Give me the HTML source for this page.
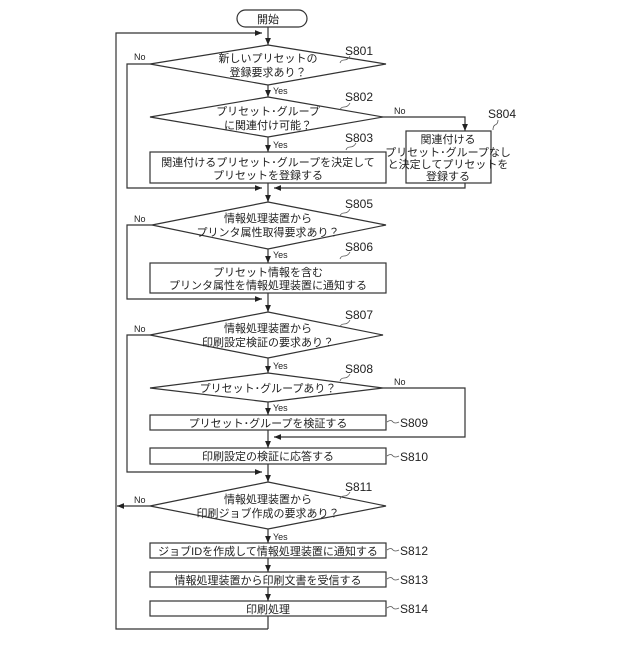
<!DOCTYPE html>
<html><head><meta charset="utf-8"><style>
body{margin:0;background:#fff}
svg text{font-family:"Liberation Sans","Noto Sans CJK JP",sans-serif;fill:#222}
.t{font-size:11px;text-anchor:middle}
.l{font-size:12px}
.s{font-size:9px}
</style></head><body>
<svg width="640" height="640" viewBox="0 0 640 640" xmlns="http://www.w3.org/2000/svg">
<defs><marker id="a" viewBox="0 0 6 6" refX="6" refY="3" markerWidth="6" markerHeight="6" orient="auto"><path d="M0,0.5L6,3L0,5.5z" fill="#222"/></marker></defs>
<g fill="none" stroke="#333" stroke-width="1.2">
<rect x="237" y="10" width="70" height="17" rx="8.5" fill="#fff"/>
<line x1="268" y1="27" x2="268" y2="45" marker-end="url(#a)"/>
<polyline points="268,629 116,629 116,33 262,33" marker-end="url(#a)"/>
<polygon points="268,45 386,64 268,85 150,64"/>
<polyline points="150,64 127,64 127,188 262,188" marker-end="url(#a)"/>
<line x1="268" y1="85" x2="268" y2="97" marker-end="url(#a)"/>
<polygon points="268,97 383,117 268,137 150,117"/>
<polyline points="383,117 465,117 465,131" marker-end="url(#a)"/>
<rect x="406" y="131" width="85" height="52"/>
<polyline points="465,183 465,188 274,188" marker-end="url(#a)"/>
<line x1="268" y1="137" x2="268" y2="152" marker-end="url(#a)"/>
<rect x="150" y="152" width="236" height="31"/>
<line x1="268" y1="183" x2="268" y2="202" marker-end="url(#a)"/>
<polygon points="268,202 386,225 268,249 152,225"/>
<polyline points="152,225 127,225 127,299 262,299" marker-end="url(#a)"/>
<line x1="268" y1="249" x2="268" y2="263" marker-end="url(#a)"/>
<rect x="150" y="263" width="236" height="30"/>
<line x1="268" y1="293" x2="268" y2="312" marker-end="url(#a)"/>
<polygon points="268,312 383,335 268,358 150,335"/>
<polyline points="150,335 127,335 127,472 262,472" marker-end="url(#a)"/>
<line x1="268" y1="358" x2="268" y2="373" marker-end="url(#a)"/>
<polygon points="268,373 383,388 268,402 150,388"/>
<polyline points="383,388 465,388 465,437 274,437" marker-end="url(#a)"/>
<line x1="268" y1="402" x2="268" y2="415" marker-end="url(#a)"/>
<rect x="150" y="415" width="236" height="15"/>
<line x1="268" y1="430" x2="268" y2="448" marker-end="url(#a)"/>
<rect x="150" y="448" width="236" height="16"/>
<line x1="268" y1="464" x2="268" y2="482" marker-end="url(#a)"/>
<polygon points="268,482 386,506 268,529 150,506"/>
<line x1="150" y1="506" x2="117" y2="506" marker-end="url(#a)"/>
<line x1="268" y1="529" x2="268" y2="543" marker-end="url(#a)"/>
<rect x="150" y="543" width="236" height="15"/>
<line x1="268" y1="558" x2="268" y2="572" marker-end="url(#a)"/>
<rect x="150" y="572" width="236" height="15"/>
<line x1="268" y1="587" x2="268" y2="601" marker-end="url(#a)"/>
<rect x="150" y="601" width="236" height="15"/>
<line x1="268" y1="616" x2="268" y2="629"/>
</g>
<g fill="none" stroke="#555" stroke-width="0.8">
<path d="M350,56 q-2,4 -6,4 q-3,0 -4,3"/>
<path d="M350,103 q-2,4 -6,4 q-3,0 -4,3"/>
<path d="M356,143 q-2,4 -6,4 q-3,0 -4,3"/>
<path d="M498,120 q0,4 -3,5 q-2,1 -2,5"/>
<path d="M350,209 q-2,4 -6,4 q-3,0 -4,3"/>
<path d="M350,252 q-2,4 -6,4 q-3,0 -4,3"/>
<path d="M350,320 q-2,4 -6,4 q-3,0 -4,3"/>
<path d="M350,374 q-2,4 -6,4 q-3,0 -4,3"/>
<path d="M350,492 q-2,4 -6,4 q-3,0 -4,3"/>
<path d="M387,422 q4,-3 6,0 q2,2 6,0"/>
<path d="M387,456 q4,-3 6,0 q2,2 6,0"/>
<path d="M387,550 q4,-3 6,0 q2,2 6,0"/>
<path d="M387,579 q4,-3 6,0 q2,2 6,0"/>
<path d="M387,608 q4,-3 6,0 q2,2 6,0"/>
</g>
<text class="t" x="268" y="23">開始</text>
<text class="t" x="268" y="62">新しいプリセットの</text>
<text class="t" x="268" y="76">登録要求あり？</text>
<text class="t" x="268" y="115">プリセット･グループ</text>
<text class="t" x="268" y="129">に関連付け可能？</text>
<text class="t" x="268" y="166">関連付けるプリセット･グループを決定して</text>
<text class="t" x="268" y="179">プリセットを登録する</text>
<text class="t" x="448" y="143">関連付ける</text>
<text class="t" x="448" y="156">プリセット･グループなし</text>
<text class="t" x="448" y="168">と決定してプリセットを</text>
<text class="t" x="448" y="180">登録する</text>
<text class="t" x="268" y="222">情報処理装置から</text>
<text class="t" x="268" y="236">プリンタ属性取得要求あり？</text>
<text class="t" x="268" y="276">プリセット情報を含む</text>
<text class="t" x="268" y="289">プリンタ属性を情報処理装置に通知する</text>
<text class="t" x="268" y="332">情報処理装置から</text>
<text class="t" x="268" y="346">印刷設定検証の要求あり？</text>
<text class="t" x="268" y="392">プリセット･グループあり？</text>
<text class="t" x="268" y="427">プリセット･グループを検証する</text>
<text class="t" x="268" y="460">印刷設定の検証に応答する</text>
<text class="t" x="268" y="503">情報処理装置から</text>
<text class="t" x="268" y="517">印刷ジョブ作成の要求あり？</text>
<text class="t" x="268" y="555">ジョブIDを作成して情報処理装置に通知する</text>
<text class="t" x="268" y="584">情報処理装置から印刷文書を受信する</text>
<text class="t" x="268" y="613">印刷処理</text>
<text class="l" x="345" y="55">S801</text>
<text class="l" x="345" y="101">S802</text>
<text class="l" x="345" y="142">S803</text>
<text class="l" x="488" y="118">S804</text>
<text class="l" x="345" y="208">S805</text>
<text class="l" x="345" y="251">S806</text>
<text class="l" x="345" y="319">S807</text>
<text class="l" x="345" y="373">S808</text>
<text class="l" x="400" y="427">S809</text>
<text class="l" x="400" y="461">S810</text>
<text class="l" x="345" y="491">S811</text>
<text class="l" x="400" y="555">S812</text>
<text class="l" x="400" y="584">S813</text>
<text class="l" x="400" y="613">S814</text>
<text class="s" x="134" y="60">No</text>
<text class="s" x="273" y="94">Yes</text>
<text class="s" x="394" y="114">No</text>
<text class="s" x="273" y="148">Yes</text>
<text class="s" x="134" y="222">No</text>
<text class="s" x="273" y="258">Yes</text>
<text class="s" x="134" y="332">No</text>
<text class="s" x="273" y="369">Yes</text>
<text class="s" x="394" y="385">No</text>
<text class="s" x="273" y="411">Yes</text>
<text class="s" x="134" y="503">No</text>
<text class="s" x="273" y="540">Yes</text>
</svg>
</body></html>
